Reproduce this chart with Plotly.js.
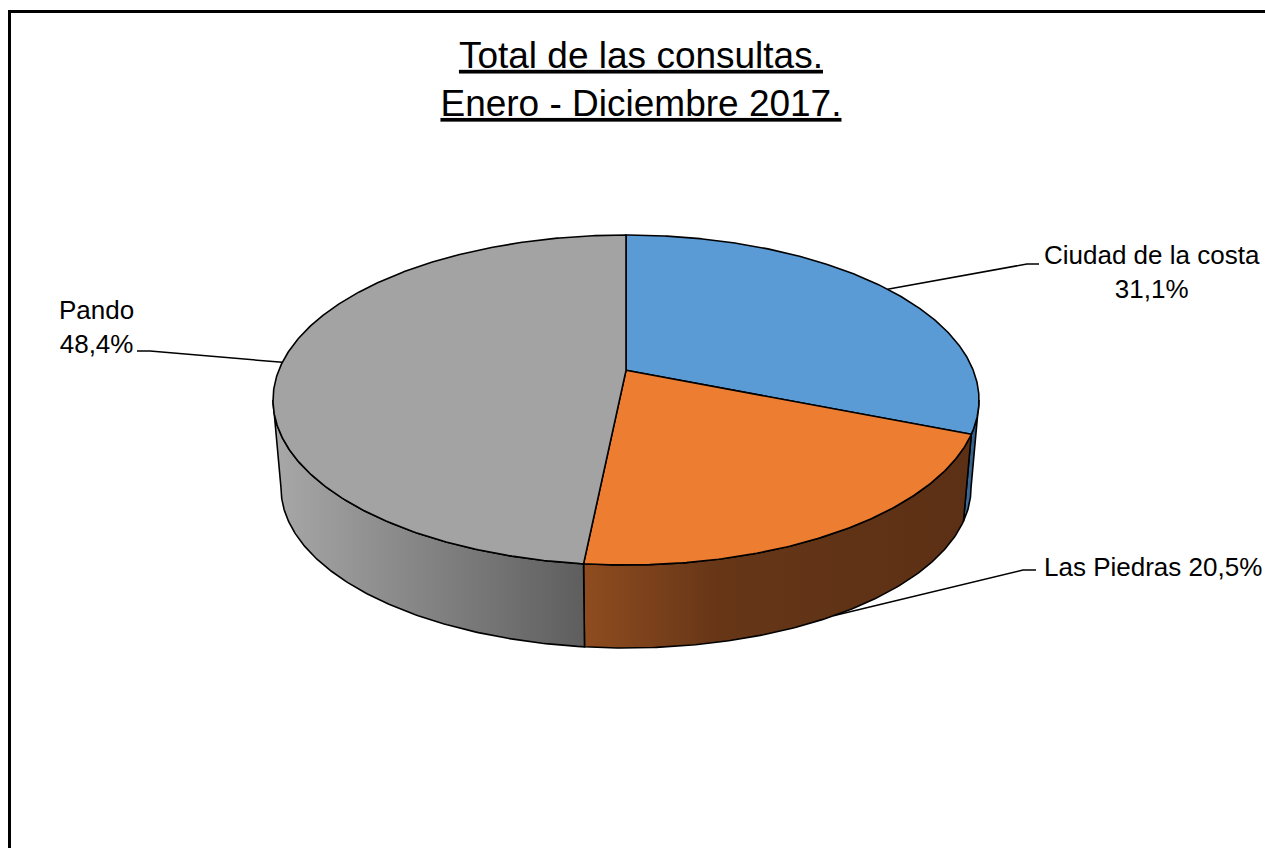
<!DOCTYPE html>
<html><head><meta charset="utf-8">
<script src="https://cdn.plot.ly/plotly-3.0.1.min.js"></script>
<style>html,body{margin:0;padding:0;background:#fff;overflow:hidden}#chart{width:1265px;height:848px}</style>
</head><body><div id="chart"></div>
<script>
// ---- data ----
const categories = ['Ciudad de la costa', 'Las Piedras', 'Pando'];
const values = [31.1, 20.5, 48.4];
const labelSeparators = ['<br>', ' ', '<br>'];
const titleLines = ['Total de las consultas.', 'Enero - Diciembre 2017.'];

// ---- styles ----
const FONT = 'Liberation Sans, Arial, sans-serif';
const topColors = ['#5B9BD5', '#ED7D31', '#A3A3A3'];
const wallScales = [
  [[0, '#41729F'], [1, '#2E5780']],
  [[0, '#8F4C1F'], [0.35, '#663617'], [1, '#5C3015']],
  [[0, '#A8A8A8'], [1, '#5E5E5E']]
];
// geometry in pixel space of the 1265x848 canvas
const G = {cx: 626, cy: 400, rx: 353, ry: 165, a: 0.18, cxb: 626, cyb: 488, rxb: 345, ryb: 160};
const labelLayout = [
  {x: 1152, y: 272, xanchor: 'center', elbow: [[1027, 264], [1039, 264]]},
  {x: 1042, y: 567, xanchor: 'left', elbow: [[1023, 570], [1036, 570]]},
  {x: 96, y: 327, xanchor: 'center', elbow: [[150, 351], [137, 351]]}
];

function proj(theta, bottom) {
  const t = theta * Math.PI / 180, a = G.a;
  const c = Math.cos(t), s = Math.sin(t), d = 1 + a * c;
  const X = s * Math.sqrt(1 - a * a) / d, Y = (c + a) / d;
  return bottom ? [G.cxb + G.rxb * X, G.cyb - G.ryb * Y] : [G.cx + G.rx * X, G.cy - G.ry * Y];
}
function arc(t1, t2, bottom) {
  const pts = [];
  const n = Math.max(2, Math.ceil(Math.abs(t2 - t1) / 0.5));
  for (let i = 0; i <= n; i++) pts.push(proj(t1 + (t2 - t1) * i / n, bottom));
  return pts;
}

const total = values.reduce((p, v) => p + v, 0);
const visA = Math.acos(-G.a) * 180 / Math.PI, visB = 360 - visA;
const apex = [G.cx, G.cy - G.ry * G.a];

const wallTraces = [], topTraces = [], leaderTraces = [], annotations = [];
let cum = 0;
values.forEach((v, i) => {
  const s = 360 * cum / total, e = 360 * (cum + v) / total;
  cum += v;
  // visible side wall
  const w1 = Math.max(s, visA), w2 = Math.min(e, visB);
  if (w2 > w1) {
    const pts = arc(w1, w2, false).concat(arc(w2, w1, true));
    pts.push(pts[0]);
    wallTraces.push({
      type: 'scatter', mode: 'lines', x: pts.map(p => p[0]), y: pts.map(p => p[1]),
      fill: 'toself', fillcolor: topColors[i],
      fillgradient: {type: 'horizontal', colorscale: wallScales[i]},
      line: {color: '#000', width: 1.6}, hoverinfo: 'skip', showlegend: false
    });
  }
  // top face
  const tp = [apex].concat(arc(s, e, false));
  tp.push(apex);
  topTraces.push({
    type: 'scatter', mode: 'lines', x: tp.map(p => p[0]), y: tp.map(p => p[1]),
    fill: 'toself', fillcolor: topColors[i], name: categories[i],
    line: {color: '#000', width: 1.6}, hoverinfo: 'skip', showlegend: false
  });
  // leader line + label
  const m = (s + e) / 2;
  const target = (m > visA && m < visB) ? proj(m, true) : proj(m, false);
  const L = labelLayout[i];
  const lp = [target].concat(L.elbow);
  leaderTraces.push({
    type: 'scatter', mode: 'lines', x: lp.map(p => p[0]), y: lp.map(p => p[1]),
    line: {color: '#000', width: 1.5}, hoverinfo: 'skip', showlegend: false
  });
  annotations.push({
    xref: 'x', yref: 'y', x: L.x, y: L.y, xanchor: L.xanchor, yanchor: 'middle',
    text: categories[i] + labelSeparators[i] + v.toFixed(1).replace('.', ',') + '%',
    showarrow: false, align: 'center', font: {family: FONT, size: 26, color: '#000'}
  });
});

const layout = {
  width: 1265, height: 848,
  margin: {l: 0, r: 0, t: 0, b: 0},
  paper_bgcolor: '#fff', plot_bgcolor: '#fff',
  showlegend: false, hovermode: false,
  xaxis: {range: [0, 1265], autorange: false, visible: false, fixedrange: true},
  yaxis: {range: [848, 0], autorange: false, visible: false, fixedrange: true},
  title: {
    text: titleLines.map(t => '<u>' + t + '</u>').join('<br>'),
    font: {family: FONT, size: 37, color: '#000'},
    x: 0.5067, xanchor: 'center', y: 0.92, yanchor: 'top', yref: 'container'
  },
  annotations: annotations,
  shapes: [{
    type: 'path', xref: 'x', yref: 'y', path: 'M 9.5 900 L 9.5 11.5 L 1300 11.5',
    line: {color: '#000', width: 3}
  }]
};

Plotly.newPlot('chart', wallTraces.concat(topTraces, leaderTraces), layout, {displayModeBar: false, staticPlot: true});
</script>
</body></html>
